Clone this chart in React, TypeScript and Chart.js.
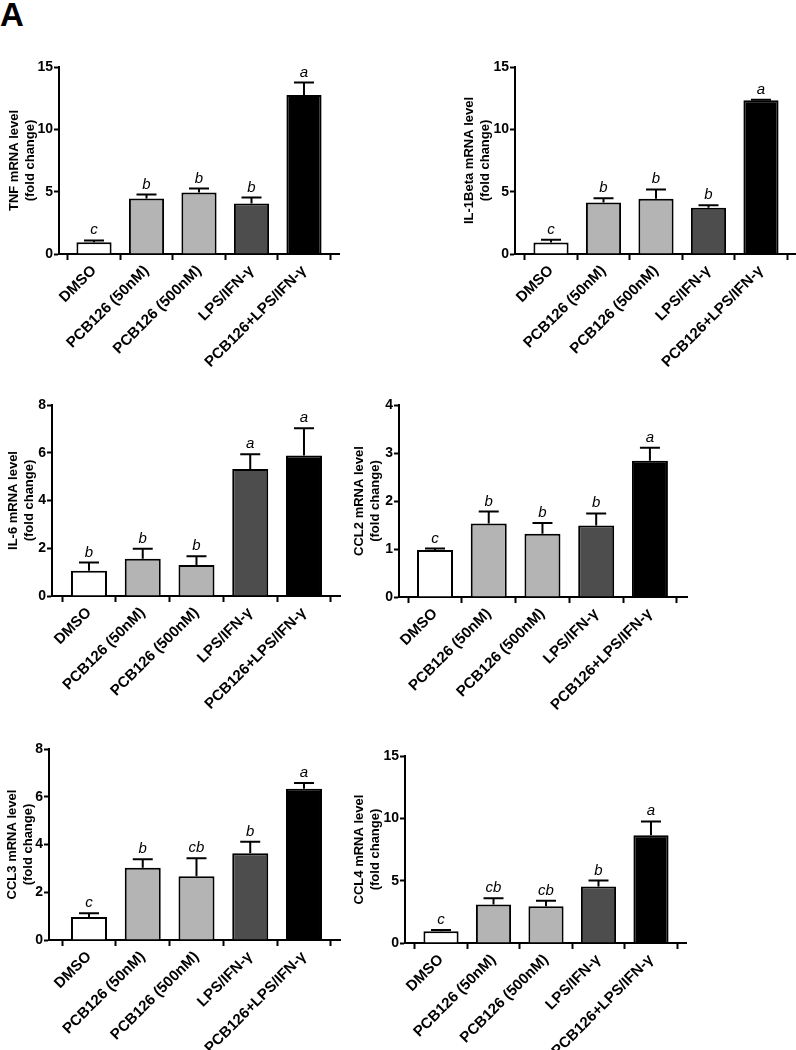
import React, { useEffect, useRef } from 'react';
import { Chart, registerables } from 'chart.js';

Chart.register(...registerables);

const FONT = '"Liberation Sans", Arial, Helvetica, sans-serif';

// ---- data ----
const CATEGORIES = ['DMSO', 'PCB126 (50nM)', 'PCB126 (500nM)', 'LPS/IFN-γ', 'PCB126+LPS/IFN-γ'];
const BAR_COLORS = ['#ffffff', '#b4b4b4', '#b4b4b4', '#4d4d4d', '#000000'];

const TNF_MEAN = [0.95, 4.45, 4.93, 4.05, 12.76];
const TNF_SEM = [0.14, 0.32, 0.32, 0.48, 0.99];
const TNF_LETTERS = ['c', 'b', 'b', 'b', 'a'];

const IL1B_MEAN = [0.93, 4.14, 4.43, 3.71, 12.33];
const IL1B_SEM = [0.22, 0.34, 0.75, 0.21, 0.05];
const IL1B_LETTERS = ['c', 'b', 'b', 'b', 'a'];

const IL6_MEAN = [1.06, 1.56, 1.3, 5.32, 5.88];
const IL6_SEM = [0.34, 0.42, 0.36, 0.62, 1.15];
const IL6_LETTERS = ['b', 'b', 'b', 'a', 'a'];

const CCL2_MEAN = [0.98, 1.53, 1.32, 1.49, 2.84];
const CCL2_SEM = [0.03, 0.25, 0.22, 0.25, 0.27];
const CCL2_LETTERS = ['c', 'b', 'b', 'b', 'a'];

const CCL3_MEAN = [0.96, 3.03, 2.67, 3.63, 6.34];
const CCL3_SEM = [0.16, 0.35, 0.75, 0.49, 0.24];
const CCL3_LETTERS = ['c', 'b', 'cb', 'b', 'a'];

const CCL4_MEAN = [0.94, 3.08, 2.95, 4.53, 8.65];
const CCL4_SEM = [0.1, 0.51, 0.43, 0.48, 1.1];
const CCL4_LETTERS = ['c', 'cb', 'cb', 'b', 'a'];

const PANELS = [
  { title: ['TNF mRNA level', '(fold change)'], mean: TNF_MEAN, sem: TNF_SEM, letters: TNF_LETTERS, yMax: 15, yStep: 5 },
  { title: ['IL-1Beta mRNA level', '(fold change)'], mean: IL1B_MEAN, sem: IL1B_SEM, letters: IL1B_LETTERS, yMax: 15, yStep: 5 },
  { title: ['IL-6 mRNA level', '(fold change)'], mean: IL6_MEAN, sem: IL6_SEM, letters: IL6_LETTERS, yMax: 8, yStep: 2 },
  { title: ['CCL2 mRNA level', '(fold change)'], mean: CCL2_MEAN, sem: CCL2_SEM, letters: CCL2_LETTERS, yMax: 4, yStep: 1 },
  { title: ['CCL3 mRNA level', '(fold change)'], mean: CCL3_MEAN, sem: CCL3_SEM, letters: CCL3_LETTERS, yMax: 8, yStep: 2 },
  { title: ['CCL4 mRNA level', '(fold change)'], mean: CCL4_MEAN, sem: CCL4_SEM, letters: CCL4_LETTERS, yMax: 15, yStep: 5 },
];

// ---- layout (page pixels) ----
const LAYOUT = [
  { left: 0, top: 47, width: 350, height: 333, axisX: 59, plotTop: 67, plotBottom: 254, plotRight: 339, titleX: 14, xMin: -0.667, xMax: 4.667 },
  { left: 350, top: 47, width: 446, height: 333, axisX: 515, plotTop: 67, plotBottom: 254, plotRight: 796, titleX: 469, xMin: -0.686, xMax: 4.667 },
  { left: 0, top: 385, width: 350, height: 340, axisX: 52, plotTop: 405, plotBottom: 596, plotRight: 340, titleX: 13, xMin: -0.688, xMax: 4.67 },
  { left: 350, top: 385, width: 446, height: 340, axisX: 399, plotTop: 405, plotBottom: 597, plotRight: 687, titleX: 359, xMin: -0.67, xMax: 4.69 },
  { left: 0, top: 729, width: 350, height: 321, axisX: 49, plotTop: 749, plotBottom: 940, plotRight: 340, titleX: 12, xMin: -0.744, xMax: 4.67 },
  { left: 350, top: 736, width: 446, height: 314, axisX: 405, plotTop: 756, plotBottom: 943, plotRight: 686, titleX: 359, xMin: -0.686, xMax: 4.667 },
];

const TITLE_LINE_HEIGHT = 1.25;
const TITLE_SIZE = 13;

function errorPlugin(sem: number[], letters: string[]) {
  return {
    id: 'errbars',
    afterDatasetsDraw(chart: any) {
      const { ctx } = chart;
      const x = chart.scales.x;
      const y = chart.scales.y;
      const data = chart.data.datasets[0].data as { x: number; y: number }[];
      ctx.save();
      ctx.strokeStyle = '#000';
      ctx.fillStyle = '#000';
      ctx.lineWidth = 2;
      data.forEach((d, i) => {
        const px = x.getPixelForValue(d.x);
        const y0 = y.getPixelForValue(d.y);
        const y1 = y.getPixelForValue(d.y + sem[i]);
        ctx.beginPath();
        ctx.moveTo(px, y0);
        ctx.lineTo(px, y1);
        ctx.moveTo(px - 10, y1);
        ctx.lineTo(px + 10, y1);
        ctx.stroke();
        ctx.font = `italic 15px ${FONT}`;
        ctx.textAlign = 'center';
        ctx.textBaseline = 'alphabetic';
        ctx.fillText(letters[i], px, y1 - 6);
      });
      ctx.restore();
    },
  };
}

function Panel({ idx }: { idx: number }) {
  const ref = useRef<HTMLCanvasElement>(null);
  const cfg = PANELS[idx];
  const lay = LAYOUT[idx];
  useEffect(() => {
    const canvas = ref.current!;
    const chart = new Chart(canvas, {
      type: 'bar',
      data: {
        datasets: [
          {
            data: cfg.mean.map((v, i) => ({ x: i, y: v })) as any,
            backgroundColor: BAR_COLORS,
            borderColor: '#000',
            borderWidth: 2,
            barPercentage: 0.67,
            categoryPercentage: 1,
          },
        ],
      },
      options: {
        responsive: false,
        animation: false,
        devicePixelRatio: 1,
        layout: {
          padding: {
            top: lay.plotTop - lay.top,
            right: lay.left + lay.width - lay.plotRight,
            bottom: 0,
            left: 0,
          },
        },
        plugins: { legend: { display: false }, tooltip: { enabled: false } },
        scales: {
          x: {
            type: 'linear',
            min: lay.xMin,
            max: lay.xMax,
            offset: false,
            afterBuildTicks: (s: any) => {
              s.ticks = CATEGORIES.map((_, i) => ({ value: i }));
            },
            afterFit: (s: any) => {
              s.height = lay.top + lay.height - lay.plotBottom;
            },
            grid: {
              display: true,
              drawOnChartArea: false,
              drawTicks: true,
              tickLength: 6,
              tickWidth: 2,
              tickColor: '#000',
            },
            border: { display: true, color: '#000', width: 2 },
            ticks: {
              autoSkip: false,
              minRotation: 45,
              maxRotation: 45,
              padding: 2,
              color: '#000',
              font: { family: FONT, size: 15, weight: 'bold' },
              callback: (v: any) => CATEGORIES[v as number] ?? '',
            },
          },
          y: {
            type: 'linear',
            min: 0,
            max: cfg.yMax,
            afterFit: (s: any) => {
              s.width = lay.axisX - lay.left;
            },
            grid: {
              display: true,
              drawOnChartArea: false,
              drawTicks: true,
              tickLength: 5,
              tickWidth: 2,
              tickColor: '#000',
            },
            border: { display: true, color: '#000', width: 2 },
            ticks: {
              stepSize: cfg.yStep,
              padding: 1,
              color: '#000',
              font: { family: FONT, size: 14, weight: 'bold' },
            },
            title: {
              display: true,
              text: cfg.title,
              color: '#000',
              font: { family: FONT, size: TITLE_SIZE, weight: 'bold', lineHeight: TITLE_LINE_HEIGHT },
              padding: { top: lay.titleX - lay.left - (TITLE_SIZE * TITLE_LINE_HEIGHT) / 2, bottom: 0 },
            },
          },
        },
      },
      plugins: [errorPlugin(cfg.sem, cfg.letters)],
    } as any);
    return () => chart.destroy();
  }, []);
  return (
    <canvas
      ref={ref}
      width={lay.width}
      height={lay.height}
      style={{ position: 'absolute', left: lay.left, top: lay.top, width: lay.width, height: lay.height }}
    />
  );
}

export default function App() {
  return (
    <div style={{ position: 'absolute', left: 0, top: 0, width: 796, height: 1050, background: '#fff', overflow: 'hidden' }}>
      <div
        style={{
          position: 'absolute',
          left: 0,
          top: -2,
          fontFamily: FONT,
          fontWeight: 'bold',
          fontSize: 33,
          lineHeight: 1,
          color: '#000',
        }}
      >
        A
      </div>
      {PANELS.map((_, i) => (
        <Panel key={i} idx={i} />
      ))}
    </div>
  );
}
